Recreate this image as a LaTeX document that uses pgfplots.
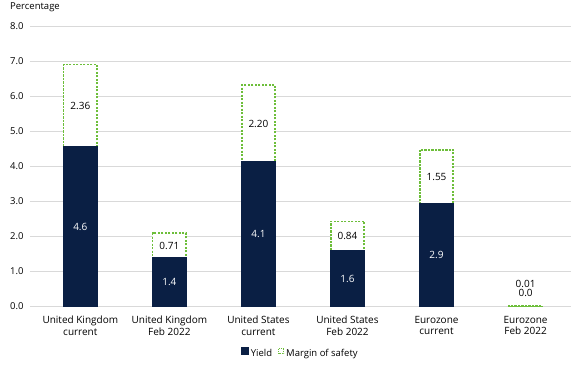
\documentclass[border=0pt]{standalone}
\usepackage{pgfplots}
\pgfplotsset{compat=1.18}
\usepackage{fontspec}
\setmainfont{Open Sans}
\definecolor{navy}{HTML}{0A1F44}
\definecolor{mgreen}{HTML}{6DBE3A}
\definecolor{gridc}{HTML}{D9D9D9}
\begin{document}
\begin{tikzpicture}[x=1pt,y=1pt]
\path[use as bounding box] (0,0) rectangle (571,371);
\node[anchor=west,inner sep=0pt,font=\fontsize{9.5}{11}\selectfont] at (10,364) {Percentage};
\begin{axis}[
  at={(30pt,64.5pt)}, anchor=south west,
  scale only axis, width=541pt, height=280pt,
  xmin=-0.565, xmax=5.51, ymin=0, ymax=8,
  axis line style={draw=none},
  major tick length=0pt,
  ymajorgrids, grid style={draw=gridc, line width=0.9pt},
  ytick={0,1,...,8},
  yticklabels={0.0,1.0,2.0,3.0,4.0,5.0,6.0,7.0,8.0},
  yticklabel style={font=\fontsize{9.5}{11}\selectfont, xshift=-3pt},
  xtick={0,1,2,3,4,5},
  xticklabels={United Kingdom\\current, United Kingdom\\Feb 2022, United States\\current, United States\\Feb 2022, Eurozone\\current, Eurozone\\Feb 2022},
  xticklabel style={font=\fontsize{10}{11.5}\selectfont, align=center, yshift=-6pt},
  clip=false,
  legend style={at={(0.5,-0.168)}, anchor=center, draw=none, fill=none,
    font=\fontsize{9.5}{11}\selectfont, legend columns=-1,
    /tikz/every even column/.append style={column sep=4pt},
    inner sep=0pt},
  legend cell align=left,
]
\addplot[ybar, bar width=33.5pt, bar shift=0pt, fill=white, draw=mgreen,
  line width=1.7pt, dash pattern=on 2.2pt off 1.3pt,
  forget plot]
  coordinates {(0,6.91) (1,2.09) (2,6.32) (3,2.43) (4,4.48) (5,0.01)};
\addplot[ybar, bar width=34pt, bar shift=0pt, fill=navy, draw=navy, line width=1.6pt,
  legend image code/.code={\fill[navy] (0pt,-0.5pt) rectangle (6pt,5.5pt);}]
  coordinates {(0,4.55) (1,1.38) (2,4.12) (3,1.59) (4,2.93)};
\addlegendentry{Yield}
\addlegendimage{legend image code/.code={\draw[mgreen, line width=0.8pt, dash pattern=on 1pt off 0.8pt, fill=white] (0.4pt,0pt) rectangle (5.6pt,5pt);}}
\addlegendentry{Margin of safety}
% yield labels
\addplot[draw=none, mark=none, nodes near coords, point meta=explicit symbolic,
  every node near coord/.style={anchor=center, text=white, font=\fontsize{10}{11}\selectfont},
  forget plot]
  coordinates {(0,2.275)[4.6] (1,0.69)[1.4] (2,2.06)[4.1] (3,0.795)[1.6] (4,1.465)[2.9]};
% margin labels
\addplot[draw=none, mark=none, nodes near coords, point meta=explicit symbolic,
  every node near coord/.style={anchor=center, text=black, font=\fontsize{10}{11}\selectfont},
  forget plot]
  coordinates {(0,5.73)[2.36] (1,1.735)[0.71] (2,5.22)[2.20] (3,2.01)[0.84] (4,3.705)[1.55] (5,0.64)[0.01] (5,0.385)[0.0]};
\end{axis}
\end{tikzpicture}
\end{document}
